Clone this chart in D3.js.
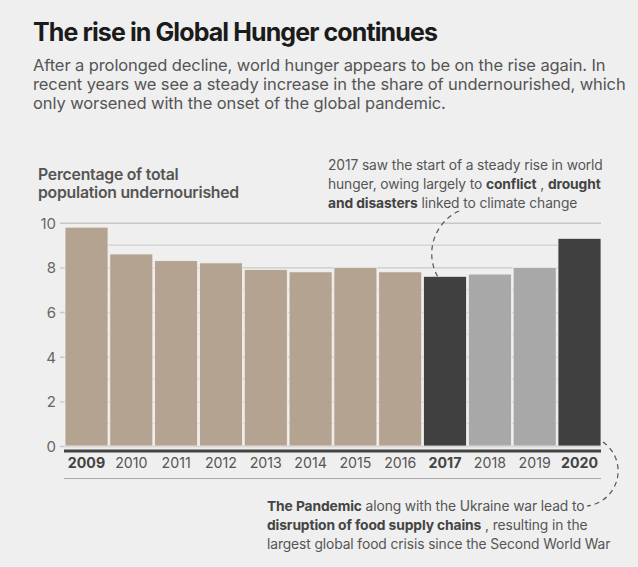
<!DOCTYPE html>
<html><head><meta charset="utf-8">
<script src="https://cdn.jsdelivr.net/npm/d3@7"></script>
<style>
html,body{margin:0;padding:0;background:#efefef;}
svg{display:block;font-family:Inter,"Noto Sans",sans-serif;}
</style></head><body>
<svg id="c" width="638" height="567"></svg>
<script>
const years = ["2009","2010","2011","2012","2013","2014","2015","2016","2017","2018","2019","2020"];
const values = [9.8,8.6,8.3,8.2,7.9,7.8,8.0,7.8,7.6,7.7,8.0,9.3];
const groups = ["pre","pre","pre","pre","pre","pre","pre","pre","key","rise","rise","key"];
const yTicks = [0,2,4,6,8,10];
const gridValues = [1,3,5,7,9];
const boldYears = ["2009","2017","2020"];

const colors = {pre:"#b5a391", key:"#404040", rise:"#a8a8a8"};
const svg = d3.select("#c");
svg.append("rect").attr("width",638).attr("height",567).attr("fill","#efefef");

const x = d3.scaleBand().domain(years).range([65,601]).paddingInner(0.04).paddingOuter(0);
const y = d3.scaleLinear().domain([0,10]).range([446,222.7]);

// title
svg.append("text").attr("x",33).attr("y",40.5).text("The rise in Global Hunger continues")
  .attr("font-size",25).attr("font-weight",700).attr("letter-spacing",-0.9).attr("fill","#1b1b1b");
const sub = ["After a prolonged decline, world hunger appears to be on the rise again. In",
  "recent years we see a steady increase in the share of undernourished, which",
  "only worsened with the onset of the global pandemic."];
sub.forEach((s,i)=>svg.append("text").attr("x",33).attr("y",70.5+i*19.3).text(s)
  .attr("font-size",16.5).attr("fill","#555").attr("letter-spacing",-0.1));

// y label
["Percentage of total","population undernourished"].forEach((s,i)=>svg.append("text")
  .attr("x",38).attr("y",180+i*18.3).text(s).attr("font-size",15.8).attr("font-weight",600)
  .attr("fill","#555").attr("letter-spacing",-0.25));

// gridlines
svg.append("g").selectAll("line").data(gridValues).join("line")
  .attr("x1",65).attr("x2",601).attr("y1",d=>y(d)).attr("y2",d=>y(d))
  .attr("stroke","#cfcfcf").attr("stroke-width",1.3);
const yAxis = d3.axisLeft(y).tickValues(yTicks).tickSize(-(601-60)).tickPadding(4);
const ga = svg.append("g").attr("transform","translate(60,0)").call(yAxis);
ga.select(".domain").remove();
ga.selectAll(".tick line").attr("stroke","#c8c8c8").attr("stroke-width",1.4);
ga.selectAll(".tick text").attr("font-size",15).attr("fill","#666").attr("font-family","Inter,sans-serif").attr("x",-4).attr("dy","0.36em");

// bars
svg.append("g").selectAll("rect").data(years).join("rect")
  .attr("x",d=>x(d)).attr("width",x.bandwidth())
  .attr("y",(d,i)=>y(values[i])).attr("height",(d,i)=>y(0)-y(values[i]))
  .attr("fill",(d,i)=>colors[groups[i]])
  .attr("stroke","#f4f1ed").attr("stroke-width",0.8);

// baseline and x axis
svg.append("line").attr("x1",64).attr("x2",601).attr("y1",451).attr("y2",451)
  .attr("stroke","#444").attr("stroke-width",3);
svg.append("line").attr("x1",64).attr("x2",601).attr("y1",478.5).attr("y2",478.5)
  .attr("stroke","#aaa").attr("stroke-width",1.2);
const xAxis = d3.axisBottom(x).tickSize(0).tickPadding(0);
const gx = svg.append("g").attr("transform","translate(0,468)").call(xAxis);
gx.select(".domain").remove();
gx.selectAll(".tick text").attr("dy",0).attr("y",0).attr("font-size",14.2)
  .attr("font-family","Inter,sans-serif")
  .attr("font-weight",d=>boldYears.includes(d)?700:400)
  .attr("fill",d=>boldYears.includes(d)?"#444":"#555");

// annotations
function rich(xp, yp, lines){
  lines.forEach((segs,i)=>{
    const t = svg.append("text").attr("x",xp).attr("y",yp+i*19.1).attr("font-size",13.8).attr("fill","#555").attr("letter-spacing",-0.1);
    segs.forEach(s=>t.append("tspan").text(s[0]).attr("font-weight",s[1]?700:400).attr("fill",s[1]?"#444":"#555"));
  });
}
rich(328,170,[
  [["2017 saw the start of a steady rise in world",0]],
  [["hunger, owing largely to ",0],["conflict",1],[" , ",0],["drought",1]],
  [["and disasters",1],[" linked to climate change",0]]
]);
rich(267,511,[
  [["The Pandemic",1],[" along with the Ukraine war lead to",0]],
  [["disruption of food supply chains",1],[" , resulting in the",0]],
  [["largest global food crisis since the Second World War",0]]
]);

const i17 = years.indexOf("2017");
const ex = x("2017")+14, ey = y(values[i17]);
svg.append("path").attr("d",`M459,211 A47,47 0 0 0 ${ex},${ey}`)
  .attr("fill","none").attr("stroke","#555").attr("stroke-width",1.2).attr("stroke-dasharray","5,4");
svg.append("path").attr("d",`M603,442 A35.3,35.3 0 0 1 587,506`)
  .attr("fill","none").attr("stroke","#555").attr("stroke-width",1.2).attr("stroke-dasharray","5,4");
</script></body></html>
